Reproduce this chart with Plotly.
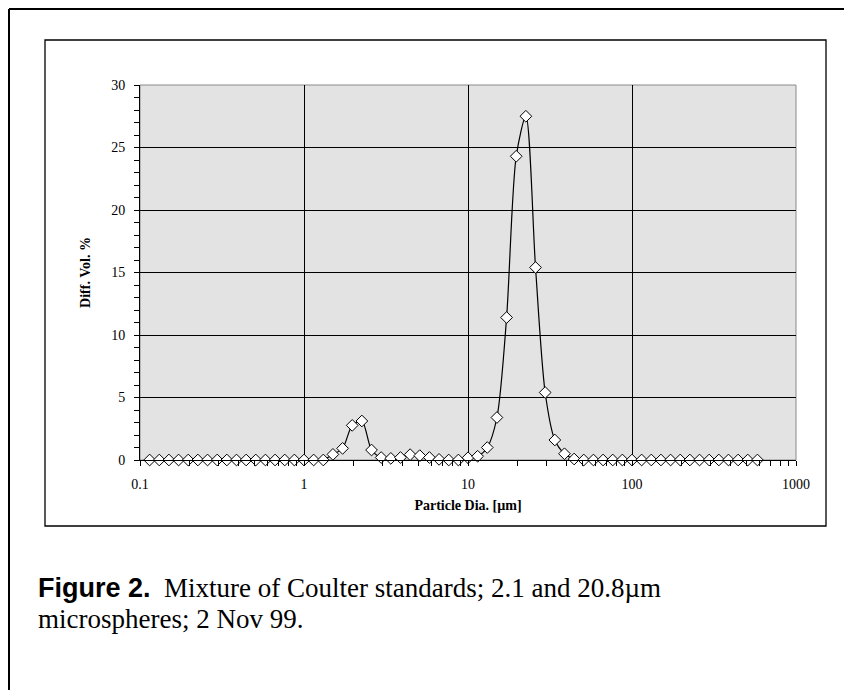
import plotly.graph_objects as go

# Particle diameter channels (µm)
diameter = [0.1145, 0.1311, 0.1501, 0.1719, 0.1968, 0.2254, 0.2581, 0.2955, 0.3384, 0.3875,
            0.4437, 0.5081, 0.5818, 0.6662, 0.7629, 0.8736, 1.0, 1.145, 1.311, 1.501,
            1.719, 1.968, 2.254, 2.581, 2.955, 3.384, 3.875, 4.437, 5.081, 5.818,
            6.662, 7.629, 8.736, 10.0, 11.45, 13.11, 15.01, 17.19, 19.68, 22.54,
            25.81, 29.55, 33.84, 38.75, 44.37, 50.81, 58.18, 66.62, 76.29, 87.36,
            100.0, 114.5, 131.1, 150.1, 171.9, 196.8, 225.4, 258.1, 295.5, 338.4,
            387.5, 443.7, 508.1, 581.8]
# Differential volume %
diff_vol = [0, 0, 0, 0, 0, 0, 0, 0, 0, 0,
            0, 0, 0, 0, 0, 0, 0, 0, 0, 0.45,
            0.93, 2.77, 3.12, 0.8, 0.2, 0.13, 0.2, 0.43, 0.35, 0.2,
            0.05, 0, 0, 0.18, 0.3, 1.0, 3.4, 11.4, 24.3, 27.5,
            15.4, 5.4, 1.6, 0.5, 0.08, 0, 0, 0, 0, 0,
            0, 0, 0, 0, 0, 0, 0, 0, 0, 0,
            0, 0, 0, 0]

x_tickvals = [0.1, 1, 10, 100, 1000]
x_ticktext = ["0.1", "1", "10", "100", "1000"]
x_minor = [m * d for d in [0.1, 1, 10, 100] for m in range(2, 10)]
y_tickvals = [0, 5, 10, 15, 20, 25, 30]

x_title = "Particle Dia. [µm]"
y_title = "Diff. Vol. %"
caption_bold = "Figure 2."
caption_line1 = "Mixture of Coulter standards; 2.1 and 20.8µm"
caption_line2 = "microspheres; 2 Nov 99."

W, H = 844, 690
L, R, T, B = 140, 796, 85, 460
pw, ph = R - L, B - T

def px(x):
    return (x - L) / pw

def py(y):
    return (B - y) / ph

serif = "Liberation Serif, Times New Roman, serif"
sans = "Liberation Sans, Arial, sans-serif"

fig = go.Figure()
fig.add_trace(go.Scatter(
    x=diameter, y=diff_vol, mode="lines+markers",
    line=dict(color="black", width=1.2, shape="spline", smoothing=0.8),
    marker=dict(symbol="diamond", size=9, color="white",
                line=dict(color="black", width=1)),
    cliponaxis=False, showlegend=False,
))

fig.update_layout(
    width=W, height=H,
    margin=dict(l=L, r=W - R, t=T, b=H - B, pad=0),
    paper_bgcolor="white",
    plot_bgcolor="#e3e3e3",
    font=dict(family=serif, color="black", size=14),
    showlegend=False,
)

fig.update_xaxes(
    type="log", range=[-1, 3],
    tickmode="array", tickvals=x_tickvals, ticktext=x_ticktext,
    ticks="outside", ticklen=5, tickcolor="black", tickwidth=1,
    ticklabelstandoff=6,
    showline=True, linecolor="black", linewidth=1,
    showgrid=True, gridcolor="black", gridwidth=1,
    zeroline=False,
    tickfont=dict(family=serif, size=14),
    minor=dict(tickmode="array", tickvals=x_minor, ticks="outside", ticklen=5,
               tickcolor="black", tickwidth=1, showgrid=False),
    title=dict(text="<b>" + x_title + "</b>", font=dict(family=serif, size=14), standoff=9),
)
fig.update_yaxes(
    range=[0, 30],
    tickmode="array", tickvals=y_tickvals,
    ticks="outside", ticklen=5, tickcolor="black", tickwidth=1,
    ticklabelstandoff=6,
    showline=True, linecolor="black", linewidth=1,
    showgrid=True, gridcolor="black", gridwidth=1,
    zeroline=False,
    tickfont=dict(family=serif, size=14),
    minor=dict(dtick=1, ticks="outside", ticklen=5, tickcolor="black",
               tickwidth=1, showgrid=False),
    title=dict(text="<b>" + y_title + "</b>", font=dict(family=serif, size=14), standoff=17),
)

# plot area top/right border (gray)
fig.add_shape(type="rect", xref="paper", yref="paper", x0=0, x1=1, y0=0, y1=1,
              line=dict(color="#8a8a8a", width=1), layer="below")
# inner chart frame
fig.add_shape(type="rect", xref="paper", yref="paper",
              x0=px(45), x1=px(826), y0=py(526), y1=py(40),
              line=dict(color="black", width=1.3))
# outer frame (left and top edges)
fig.add_shape(type="line", xref="paper", yref="paper",
              x0=px(9), x1=px(9), y0=py(9), y1=py(H + 5),
              line=dict(color="black", width=2))
fig.add_shape(type="line", xref="paper", yref="paper",
              x0=px(9), x1=px(W + 5), y0=py(9), y1=py(9),
              line=dict(color="black", width=2))

fig.add_annotation(
    xref="paper", yref="paper", x=px(36), y=py(588), xanchor="left", yanchor="middle",
    showarrow=False, align="left",
    text=("<span style='font-family:Liberation Sans, Arial, sans-serif;font-weight:bold'>"
          + caption_bold + "</span>  " + caption_line1),
    font=dict(family=serif, size=27, color="black"),
)
fig.add_annotation(
    xref="paper", yref="paper", x=px(36), y=py(619), xanchor="left", yanchor="middle",
    showarrow=False, align="left",
    text=caption_line2,
    font=dict(family=serif, size=27, color="black"),
)

fig.write_html("out.html")
